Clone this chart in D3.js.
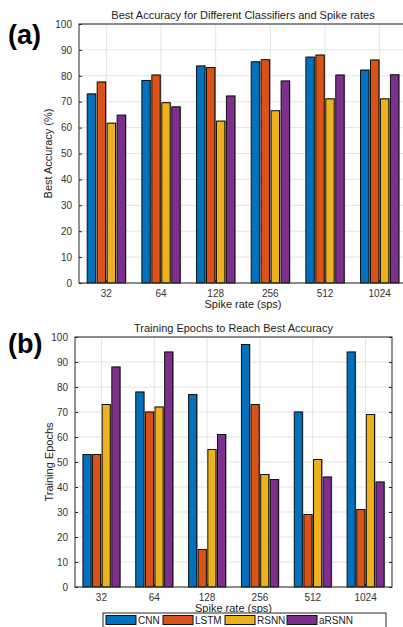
<!DOCTYPE html>
<html>
<head>
<meta charset="utf-8">
<script src="https://cdn.jsdelivr.net/npm/d3@7"></script>
<style>
  body { margin: 0; background: #fff; }
  svg { display: block; font-family: "Liberation Sans", Arial, sans-serif; }
</style>
</head>
<body>
<svg id="chart" width="403" height="627"></svg>
<script>
// dados
const rates = ["32", "64", "128", "256", "512", "1024"];
const classifiers = ["CNN", "LSTM", "RSNN", "aRSNN"];
const colors = ["#0072BD", "#D95319", "#EDB120", "#7E2F8E"];

const accCNN   = [73.0, 78.2, 83.8, 85.4, 87.2, 82.2];
const accLSTM  = [77.6, 80.3, 83.2, 86.2, 88.0, 86.1];
const accRSNN  = [61.7, 69.6, 62.5, 66.5, 71.1, 71.1];
const accARSNN = [64.8, 68.0, 72.2, 78.0, 80.3, 80.4];

const epCNN   = [53, 78, 77, 97, 70, 94];
const epLSTM  = [53, 70, 15, 73, 29, 31];
const epRSNN  = [73, 72, 55, 45, 51, 69];
const epARSNN = [88, 94, 61, 43, 44, 42];

const yTicks = [0, 10, 20, 30, 40, 50, 60, 70, 80, 90, 100];

const $svg = d3.select("#chart");

// desenha um painel de barras agrupadas
function render_panel(cfg) {
  const x = d3.scaleBand().domain(rates).range([cfg.left, cfg.right]);
  const y = d3.scaleLinear().domain([0, 100]).range([cfg.bottom, cfg.top]);
  const groupW = x.bandwidth() * 0.7;
  const xi = d3.scaleBand().domain(classifiers)
    .range([-groupW / 2, groupW / 2]).paddingInner(0.16);

  const g = $svg.append("g");

  // grade
  g.selectAll(".hgrid").data(yTicks).enter().append("line")
    .attr("x1", cfg.left).attr("x2", cfg.right)
    .attr("y1", d => y(d)).attr("y2", d => y(d))
    .attr("stroke", "#e3e3e3").attr("stroke-width", 1);
  g.selectAll(".vgrid").data(rates).enter().append("line")
    .attr("x1", d => x(d) + x.bandwidth() / 2).attr("x2", d => x(d) + x.bandwidth() / 2)
    .attr("y1", cfg.top).attr("y2", cfg.bottom)
    .attr("stroke", "#e3e3e3").attr("stroke-width", 1);

  // barras
  const rows = [];
  rates.forEach((r, i) => {
    classifiers.forEach((c, j) => rows.push({ r: r, c: c, j: j, v: cfg.series[j][i] }));
  });

  g.selectAll(".shadow").data(rows).enter().append("rect")
    .attr("x", d => x(d.r) + x.bandwidth() / 2 + xi(d.c) + 1)
    .attr("y", d => y(d.v) - 0.5)
    .attr("width", xi.bandwidth())
    .attr("height", d => y(0) - y(d.v))
    .attr("fill", "#8a8a8a");

  g.selectAll(".bar").data(rows).enter().append("rect")
    .attr("x", d => x(d.r) + x.bandwidth() / 2 + xi(d.c))
    .attr("y", d => y(d.v))
    .attr("width", xi.bandwidth())
    .attr("height", d => y(0) - y(d.v))
    .attr("fill", d => colors[d.j])
    .attr("stroke", "#111").attr("stroke-width", 1);

  // caixa e ticks
  g.append("rect")
    .attr("x", cfg.left).attr("y", cfg.top)
    .attr("width", cfg.right - cfg.left).attr("height", cfg.bottom - cfg.top)
    .attr("fill", "none").attr("stroke", "#262626").attr("stroke-width", 1);

  const axL = d3.axisLeft(y).tickValues(yTicks).tickSizeInner(-3).tickSizeOuter(0).tickPadding(7);
  const gl = g.append("g").attr("transform", `translate(${cfg.left},0)`).call(axL);
  const axR = d3.axisRight(y).tickValues(yTicks).tickSizeInner(-3).tickSizeOuter(0).tickFormat("");
  const gr = g.append("g").attr("transform", `translate(${cfg.right},0)`).call(axR);
  const axB = d3.axisBottom(x).tickSizeInner(-3).tickSizeOuter(0).tickPadding(7);
  const gb = g.append("g").attr("transform", `translate(0,${cfg.bottom})`).call(axB);
  [gl, gr, gb].forEach(a => {
    a.select(".domain").remove();
    a.selectAll("line").attr("stroke", "#262626");
    a.selectAll("text").attr("fill", "#333").style("font-size", "10px")
      .style("font-family", "'Liberation Sans', Arial, sans-serif");
  });

  // textos
  g.append("text")
    .attr("x", (cfg.left + cfg.right) / 2).attr("y", cfg.top - 5)
    .attr("text-anchor", "middle").attr("fill", "#222").style("font-size", "11px")
    .text(cfg.title);
  g.append("text")
    .attr("x", (cfg.left + cfg.right) / 2).attr("y", cfg.bottom + 25)
    .attr("text-anchor", "middle").attr("fill", "#222").style("font-size", "11px")
    .text("Spike rate (sps)");
  g.append("text")
    .attr("transform", `translate(${cfg.ylabX},${(cfg.top + cfg.bottom) / 2}) rotate(-90)`)
    .attr("text-anchor", "middle").attr("fill", "#222").style("font-size", "11px")
    .text(cfg.ylabel);
  g.append("text")
    .attr("x", 8).attr("y", cfg.tagY)
    .attr("fill", "#000").style("font-size", "27px").style("font-weight", "bold")
    .text(cfg.tag);
}

render_panel({
  left: 79, right: 407, top: 24, bottom: 283,
  series: [accCNN, accLSTM, accRSNN, accARSNN],
  title: "Best Accuracy for Different Classifiers and Spike rates",
  ylabel: "Best Accuracy (%)", ylabX: 52, tag: "(a)", tagY: 44
});

render_panel({
  left: 75, right: 392, top: 337, bottom: 587,
  series: [epCNN, epLSTM, epRSNN, epARSNN],
  title: "Training Epochs to Reach Best Accuracy",
  ylabel: "Training Epochs", ylabX: 53, tag: "(b)", tagY: 353
});

// legenda
const legX = 103, legY = 613, legW = 283, legH = 16;
const $leg = $svg.append("g");
$leg.append("rect")
  .attr("x", legX).attr("y", legY).attr("width", legW).attr("height", legH)
  .attr("fill", "#fff").attr("stroke", "#262626").attr("stroke-width", 1);
const legOffsets = [3, 60, 122, 184];
classifiers.forEach((c, j) => {
  $leg.append("rect")
    .attr("x", legX + legOffsets[j]).attr("y", legY + 2.5)
    .attr("width", 30).attr("height", 9)
    .attr("fill", colors[j]).attr("stroke", "#111").attr("stroke-width", 1);
  $leg.append("text")
    .attr("x", legX + legOffsets[j] + 32).attr("y", legY + 11)
    .attr("fill", "#222").style("font-size", "10px")
    .text(c);
});
</script>
</body>
</html>
